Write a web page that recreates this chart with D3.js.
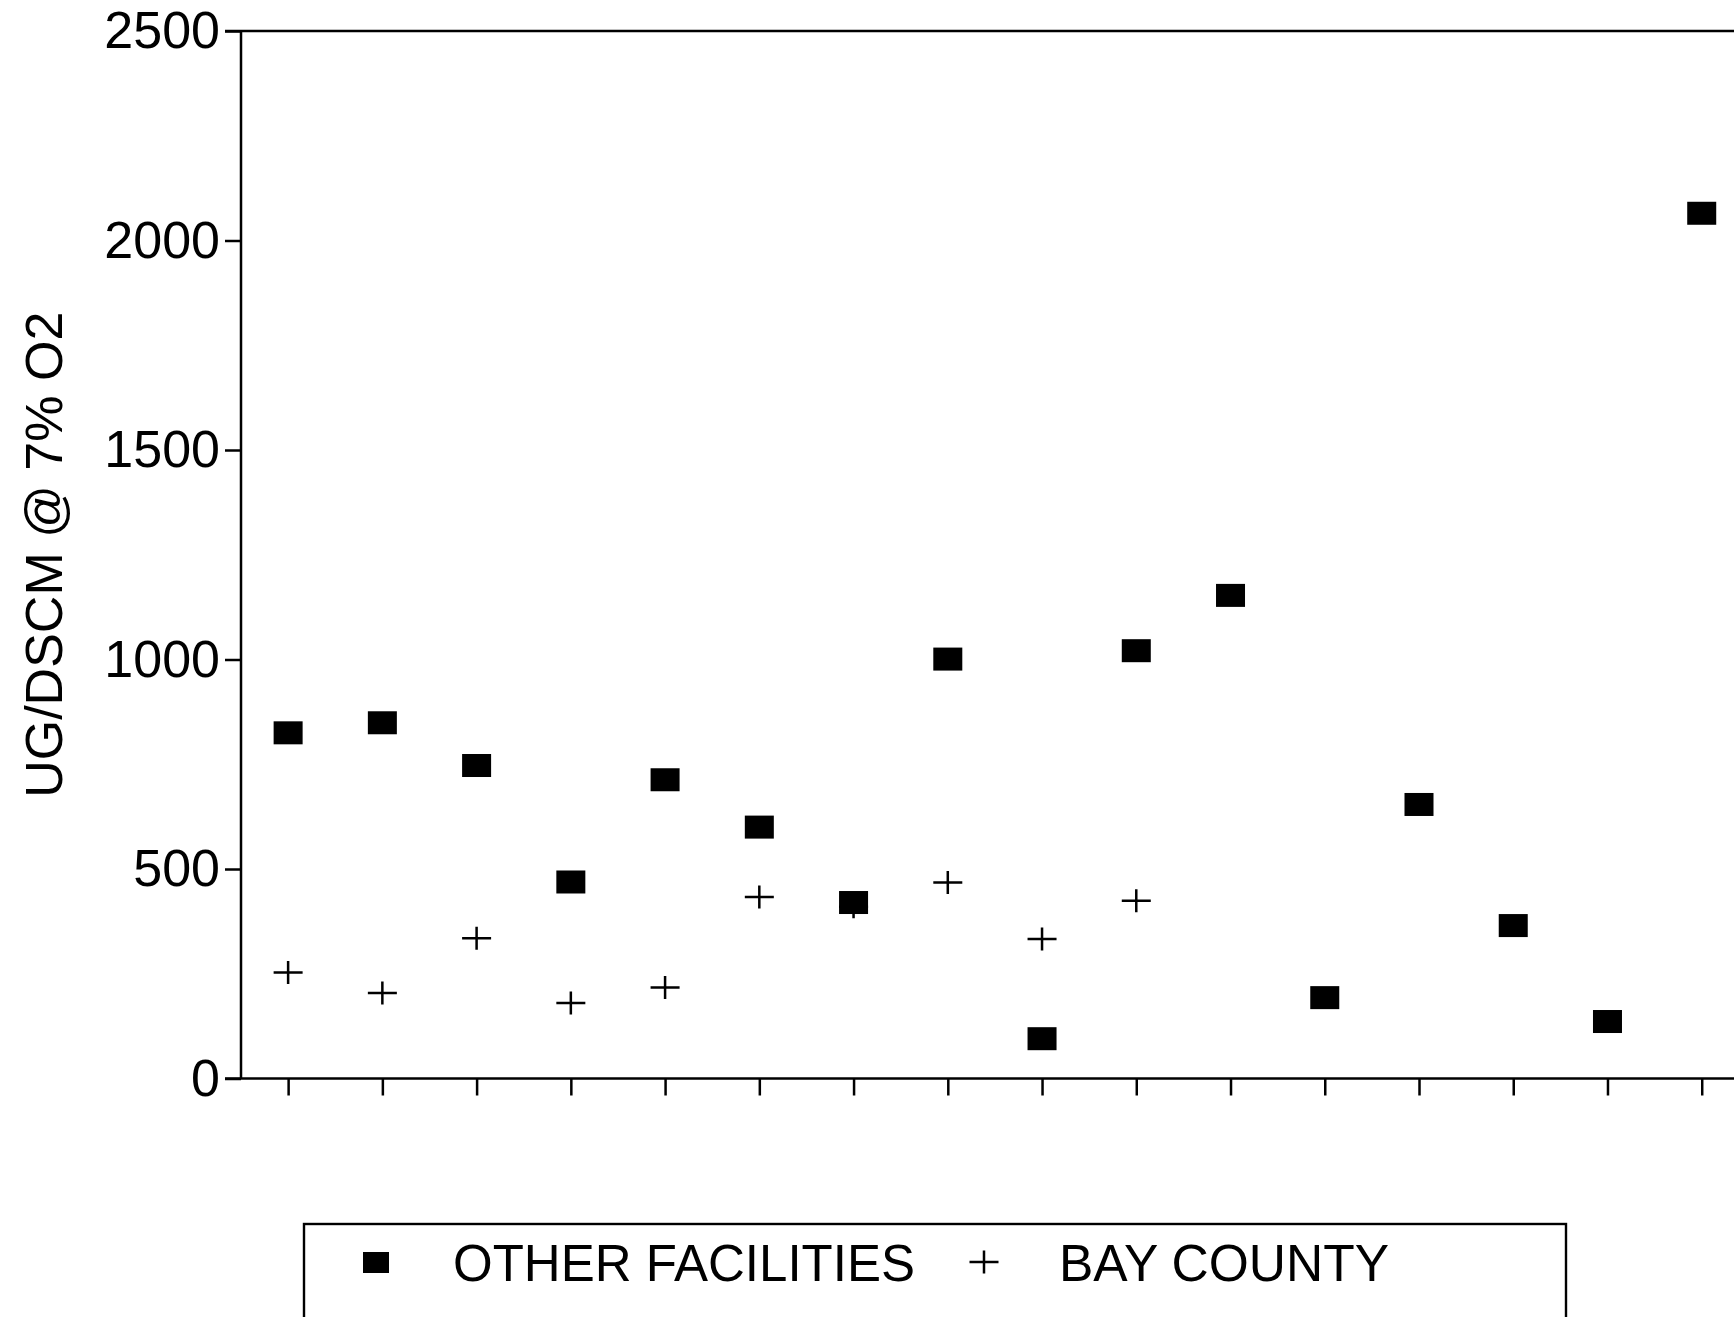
<!DOCTYPE html>
<html>
<head>
<meta charset="utf-8">
<script src="https://cdn.jsdelivr.net/npm/d3@7/dist/d3.min.js"></script>
<style>
  html, body { margin: 0; padding: 0; background: #fff; overflow: hidden; }
  svg { display: block; }
  text { font-family: "Liberation Sans", Arial, Helvetica, sans-serif; fill: #000; }
</style>
</head>
<body>
<svg id="chart" width="1734" height="1317"></svg>
<script>
// Test sites along the x axis (unlabelled positions 1..16)
const sites = [1, 2, 3, 4, 5, 6, 7, 8, 9, 10, 11, 12, 13, 14, 15, 16];
// Concentrations, UG/DSCM corrected to 7% O2
const otherFacilities = [825, 849, 747, 469, 713, 600, 420, 1001, 95, 1021, 1153, 193, 654, 365, 136, 2065];
const bayCounty = [253, 204, 335, 180, 217, 433, 410, 468, 333, 424, null, null, null, null, null, null];
const yTicks = [0, 500, 1000, 1500, 2000, 2500];
const seriesNames = ["OTHER FACILITIES", "BAY COUNTY"];

const svg = d3.select("#chart");
const plotLeft = 241, plotTop = 31, plotBottom = 1078.5, step = 94.24;

const x = d3.scaleLinear().domain([0.5, 16.5]).range([plotLeft, plotLeft + 16 * step]);
const y = d3.scaleLinear().domain([0, 2500]).range([plotBottom, plotTop]);

const markW = 29, markH = 23;
const crossPath = `M${-markW / 2},0H${markW / 2}M0,${-markH / 2}V${markH / 2}`;

// Y axis
const yAxis = svg.append("g")
  .attr("transform", `translate(${plotLeft},0)`)
  .call(d3.axisLeft(y).tickValues(yTicks).tickSize(16).tickPadding(5).tickFormat(d3.format("d")));
yAxis.select(".domain").attr("stroke", "#000").attr("stroke-width", 2.5)
  .attr("d", `M0,${plotTop}V${plotBottom}`);
yAxis.selectAll(".tick line").attr("stroke", "#000").attr("stroke-width", 2.5);
yAxis.selectAll(".tick text")
  .style("font-size", "52px")
  .style("font-family", '"Liberation Sans", Arial, sans-serif')
  .attr("fill", "#000");

// X axis (tick marks only)
const xAxis = svg.append("g")
  .attr("transform", `translate(0,${plotBottom})`)
  .call(d3.axisBottom(x).tickValues(sites).tickSize(17).tickFormat(""));
xAxis.select(".domain").attr("stroke", "#000").attr("stroke-width", 2.7)
  .attr("d", `M${plotLeft - 16},0H1734`);
xAxis.selectAll(".tick line").attr("stroke", "#000").attr("stroke-width", 2.5);

// Top frame line
svg.append("line")
  .attr("x1", plotLeft - 16).attr("x2", 1734)
  .attr("y1", y(2500)).attr("y2", y(2500))
  .attr("stroke", "#000").attr("stroke-width", 2.7);

// Axis title
svg.append("text")
  .attr("transform", `translate(62,${(plotTop + plotBottom) / 2}) rotate(-90)`)
  .attr("text-anchor", "middle")
  .style("font-size", "52px")
  .text("UG/DSCM @ 7% O2");

// Bay County crosses
svg.append("g").selectAll("path")
  .data(sites.map((s, i) => ({ s, v: bayCounty[i] })).filter(d => d.v != null))
  .join("path")
  .attr("transform", d => `translate(${x(d.s)},${y(d.v)})`)
  .attr("d", crossPath)
  .attr("stroke", "#000").attr("stroke-width", 2.5).attr("fill", "none");

// Other facilities squares
svg.append("g").selectAll("rect")
  .data(sites.map((s, i) => ({ s, v: otherFacilities[i] })))
  .join("rect")
  .attr("x", d => x(d.s) - markW / 2)
  .attr("y", d => y(d.v) - markH / 2)
  .attr("width", markW).attr("height", markH)
  .attr("fill", "#000");

// Legend
const legend = svg.append("g");
legend.append("rect")
  .attr("x", 304).attr("y", 1224).attr("width", 1262).attr("height", 140)
  .attr("fill", "none").attr("stroke", "#000").attr("stroke-width", 2.4);
legend.append("rect")
  .attr("x", 376 - 13).attr("y", 1262 - 10).attr("width", 26).attr("height", 21)
  .attr("fill", "#000");
legend.append("text").attr("x", 453).attr("y", 1281)
  .style("font-size", "51px").text(seriesNames[0]);
legend.append("path")
  .attr("transform", "translate(984,1262)")
  .attr("d", crossPath)
  .attr("stroke", "#000").attr("stroke-width", 2.5).attr("fill", "none");
legend.append("text").attr("x", 1059).attr("y", 1281)
  .style("font-size", "51.5px").text(seriesNames[1]);
</script>
</body>
</html>
